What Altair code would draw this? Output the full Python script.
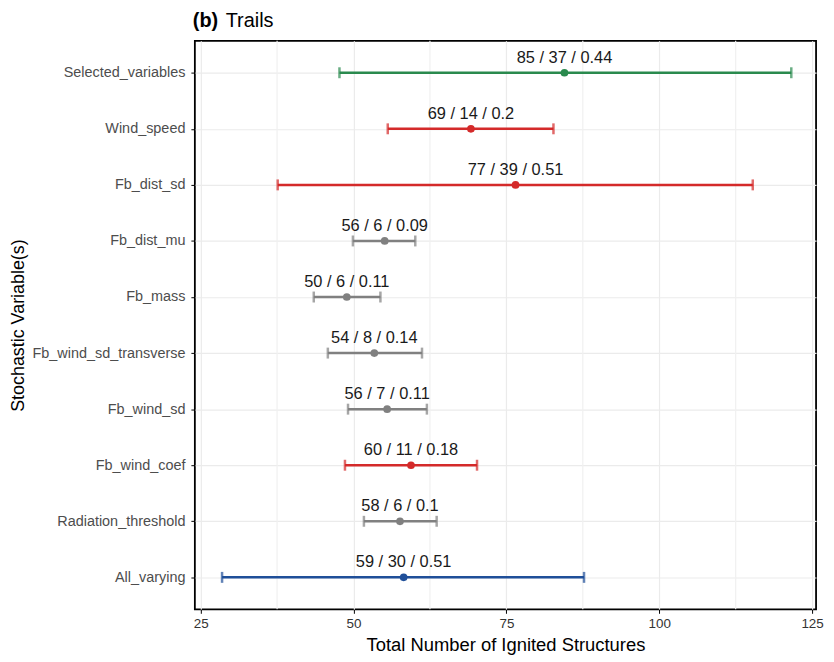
import altair as alt
import pandas as pd

variables = ["Selected_variables", "Wind_speed", "Fb_dist_sd", "Fb_dist_mu", "Fb_mass",
             "Fb_wind_sd_transverse", "Fb_wind_sd", "Fb_wind_coef", "Radiation_threshold", "All_varying"]
means = [84.5, 69.2, 76.5, 55.1, 48.9, 53.4, 55.5, 59.4, 57.6, 58.2]
lows = [47.7, 55.6, 37.6, 49.9, 43.5, 45.8, 49.1, 48.6, 51.7, 28.5]
highs = [121.6, 82.7, 115.3, 60.1, 54.4, 61.2, 62.0, 70.2, 63.6, 87.7]
labels = ["85 / 37 / 0.44", "69 / 14 / 0.2", "77 / 39 / 0.51", "56 / 6 / 0.09", "50 / 6 / 0.11",
          "54 / 8 / 0.14", "56 / 7 / 0.11", "60 / 11 / 0.18", "58 / 6 / 0.1", "59 / 30 / 0.51"]
groups = ["selected", "significant", "significant", "other", "other",
          "other", "other", "significant", "other", "all"]
group_names = ["selected", "significant", "other", "all"]
group_colors = ["#2a8a4e", "#d42a2a", "#808080", "#1f4f99"]

major_breaks = [25, 50, 75, 100, 125]
minor_breaks = [37.5, 62.5, 87.5, 112.5]
title_tag = ["(b)"]
title_word = ["Trails"]

df = pd.DataFrame({"variable": variables, "mean": means, "low": lows, "high": highs,
                   "label": labels, "group": groups})
dfl = pd.DataFrame({"low": lows, "variable": variables, "group": groups})
dfh = pd.DataFrame({"high": highs, "variable": variables, "group": groups})

FONT = "Liberation Sans"
xscale = alt.Scale(domain=[24.05, 125.65], nice=False, zero=False)
yscale = alt.Scale(type="point", domain=variables, padding=0.57)
cscale = alt.Scale(domain=group_names, range=group_colors)

xax = alt.Axis(values=major_breaks, title="Total Number of Ignited Structures", grid=True,
               gridColor="#ebebeb", gridWidth=1.2, domain=False, ticks=True, tickColor="black",
               tickSize=4, labelFontSize=13.5, labelColor="#333333", labelFont=FONT,
               titleFont=FONT, titleFontSize=18.5, titleFontWeight="normal", titleColor="black",
               labelPadding=3, titlePadding=6)
yax = alt.Axis(title="Stochastic Variable(s)", grid=True, gridColor="#ebebeb", gridWidth=1.2,
               domain=False, ticks=True, tickColor="black", tickSize=4, labelFontSize=14.5,
               labelColor="#4d4d4d", labelFont=FONT, titleFont=FONT, titleFontSize=18,
               titleFontWeight="normal", titleColor="black", labelPadding=6, titlePadding=4)

base = alt.Chart(df)

minor = alt.Chart(pd.DataFrame({"m": minor_breaks})).mark_rule(color="#f0f0f0", strokeWidth=1.2).encode(
    x=alt.X("m:Q", scale=xscale, axis=xax)
)

bars = base.mark_rule(strokeWidth=2.5).encode(
    x=alt.X("low:Q", scale=xscale, axis=xax),
    x2="high:Q",
    y=alt.Y("variable:N", scale=yscale, axis=yax, sort=variables),
    color=alt.Color("group:N", scale=cscale, legend=None),
)
caps_l = alt.Chart(dfl).mark_tick(thickness=2.5, size=11, orient="vertical").encode(
    x=alt.X("low:Q", scale=xscale),
    y=alt.Y("variable:N", scale=yscale, sort=variables),
    color=alt.Color("group:N", scale=cscale, legend=None),
)
caps_h = alt.Chart(dfh).mark_tick(thickness=2.5, size=11, orient="vertical").encode(
    x=alt.X("high:Q", scale=xscale),
    y=alt.Y("variable:N", scale=yscale, sort=variables),
    color=alt.Color("group:N", scale=cscale, legend=None),
)
points = base.mark_point(filled=True, size=60, opacity=1).encode(
    x=alt.X("mean:Q", scale=xscale),
    y=alt.Y("variable:N", scale=yscale, sort=variables),
    color=alt.Color("group:N", scale=cscale, legend=None),
)
texts = base.mark_text(fontSize=16.5, font=FONT, color="#1a1a1a", dy=-15, baseline="middle").encode(
    x=alt.X("mean:Q", scale=xscale),
    y=alt.Y("variable:N", scale=yscale, sort=variables),
    text="label:N",
)

tag_text = alt.Chart(pd.DataFrame({"t": title_tag})).mark_text(
    fontSize=20, font=FONT, fontWeight="bold", align="left", baseline="alphabetic", color="black"
).encode(x=alt.value(-2), y=alt.value(-14), text="t:N")
word_text = alt.Chart(pd.DataFrame({"t": title_word})).mark_text(
    fontSize=20, font=FONT, align="left", baseline="alphabetic", color="black"
).encode(x=alt.value(31), y=alt.value(-14), text="t:N")

chart = alt.layer(minor, bars, caps_l, caps_h, points, texts, tag_text, word_text).properties(
    width=625, height=572,
    autosize=alt.AutoSizeParams(type="none"),
    padding={"left": 188, "top": 31, "right": 10, "bottom": 50},
).configure(background="white").configure_view(stroke="black", strokeWidth=1.8)

chart.save("out.html", embed_options={"renderer": "svg", "actions": False})
